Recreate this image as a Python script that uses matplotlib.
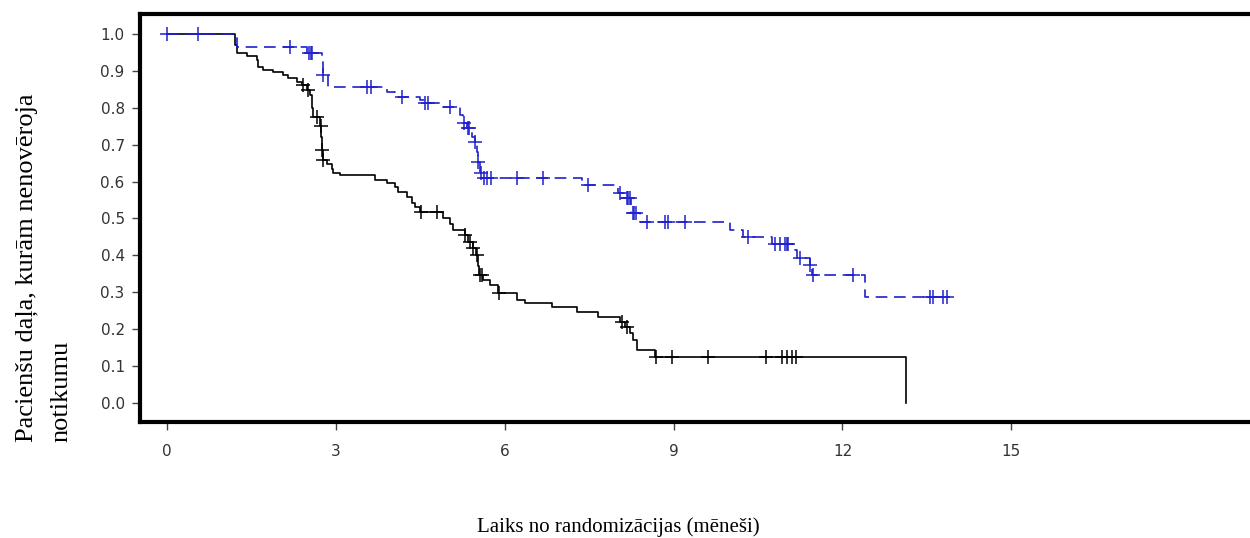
import numpy as np
import matplotlib
matplotlib.use('Agg')
import matplotlib.pyplot as plt

# black solid curve: event times (months) and survival after each step
BLACK_T = [0.0, 1.21, 1.24, 1.42, 1.60, 1.62, 1.71, 1.88, 2.06, 2.15, 2.31, 2.40, 2.49, 2.54,
           2.58, 2.59, 2.72, 2.74, 2.75, 2.77, 2.84, 2.93, 2.95, 3.07, 3.69, 3.91, 4.05, 4.10,
           4.26, 4.35, 4.40, 4.49, 4.90, 5.03, 5.08, 5.29, 5.35, 5.44, 5.49, 5.52, 5.54, 5.61,
           5.74, 5.88, 6.22, 6.36, 6.84, 7.28, 7.66, 8.05, 8.13, 8.22, 8.28, 8.35, 8.67, 13.13]
BLACK_S = [1.0, 0.97, 0.948, 0.94, 0.93, 0.911, 0.902, 0.897, 0.889, 0.88, 0.87, 0.862, 0.848, 0.835,
           0.80, 0.775, 0.75, 0.72, 0.686, 0.658, 0.648, 0.635, 0.623, 0.617, 0.604, 0.596, 0.585, 0.572,
           0.558, 0.542, 0.53, 0.518, 0.50, 0.485, 0.47, 0.455, 0.436, 0.42, 0.40, 0.37, 0.347, 0.333,
           0.32, 0.298, 0.279, 0.271, 0.26, 0.247, 0.233, 0.22, 0.206, 0.19, 0.171, 0.144, 0.125, 0.0]
BLACK_CENS = [2.42, 2.50, 2.67, 2.73, 2.76, 2.78, 4.51, 4.80, 5.29, 5.38, 5.44, 5.51, 5.56, 5.60,
              5.90, 8.08, 8.17, 8.69, 8.97, 9.61, 10.64, 10.92, 11.01, 11.10, 11.17]

# blue dashed curve
BLUE_T = [0.0, 1.25, 2.49, 2.75, 2.77, 2.86, 3.91, 4.05, 4.49, 4.56, 4.90, 5.20, 5.26, 5.33,
          5.42, 5.47, 5.51, 5.52, 5.56, 5.59, 7.37, 8.01, 8.12, 8.24, 8.40, 10.00, 10.23, 10.75,
          11.15, 11.19, 11.42, 11.46, 12.40, 13.85]
BLUE_S = [1.0, 0.965, 0.949, 0.93, 0.889, 0.856, 0.843, 0.829, 0.821, 0.813, 0.802, 0.78, 0.76, 0.745,
          0.72, 0.706, 0.68, 0.653, 0.623, 0.61, 0.59, 0.569, 0.555, 0.515, 0.49, 0.469, 0.45, 0.43,
          0.415, 0.393, 0.374, 0.347, 0.287, 0.287]
BLUE_CENS = [0.0, 0.55, 2.18, 2.52, 2.55, 2.58, 2.78, 3.55, 3.62, 4.17, 4.58, 4.64, 5.03, 5.27, 5.35,
             5.37, 5.48, 5.53, 5.57, 5.63, 5.68, 5.76, 6.22, 6.68, 7.48, 8.05, 8.17, 8.19, 8.22,
             8.27, 8.30, 8.33, 8.52, 8.84, 8.90, 9.20, 10.32, 10.80, 10.89, 10.98, 11.01, 11.03,
             11.24, 11.42, 11.47, 12.18, 13.55, 13.61, 13.78, 13.85]

X_TICKS = [0, 3, 6, 9, 12, 15]
Y_TICKS = [0.0, 0.1, 0.2, 0.3, 0.4, 0.5, 0.6, 0.7, 0.8, 0.9, 1.0]

YLABEL = 'Pacienšu daļa, kurām nenovēroja\nnotikumu'
XLABEL = 'Laiks no randomizācijas (mēneši)'


def step_value(times, surv, t):
    idx = np.searchsorted(times, t, side='right') - 1
    return np.asarray(surv)[idx]


fig = plt.figure(figsize=(12.5, 5.38), dpi=100)
ax = fig.add_axes([140 / 1250, 1 - 422 / 538, 1 - 140 / 1250, (422 - 14) / 538])

ax.plot(BLACK_T, BLACK_S, drawstyle='steps-post', color='black', linewidth=1.2)
ax.plot(BLACK_CENS, step_value(BLACK_T, BLACK_S, BLACK_CENS), linestyle='none', marker='+',
        markersize=10, markeredgewidth=1.1, color='black')

ax.plot(BLUE_T, BLUE_S, drawstyle='steps-post', color='#2020cc', linewidth=1.2, dashes=(7, 4))
ax.plot(BLUE_CENS, step_value(BLUE_T, BLUE_S, BLUE_CENS), linestyle='none', marker='+',
        markersize=10, markeredgewidth=1.1, color='#2020cc')

ax.set_xlim(-0.48, 19.24)
ax.set_ylim(-0.0515, 1.054)
ax.set_xticks(X_TICKS)
ax.set_yticks(Y_TICKS)
ax.set_yticklabels(['{:.1f}'.format(v) for v in Y_TICKS])

for side in ['left', 'bottom', 'top']:
    ax.spines[side].set_linewidth(3)
ax.spines['right'].set_visible(False)
ax.tick_params(direction='out', length=6, width=1, color='#444444', labelcolor='#333333',
               labelsize=11, pad=5)
ax.tick_params(axis='x', pad=10)

fig.text(618 / 1250, 1 - 527 / 538, XLABEL, ha='center', va='center',
         family='Liberation Serif', fontsize=15)
fig.text(44 / 1250, 1 - 442 / 538, YLABEL, rotation=90, ha='center', va='bottom',
         multialignment='left', family='Liberation Serif', fontsize=19, linespacing=1.72)

plt.savefig('out.png', dpi=100)
